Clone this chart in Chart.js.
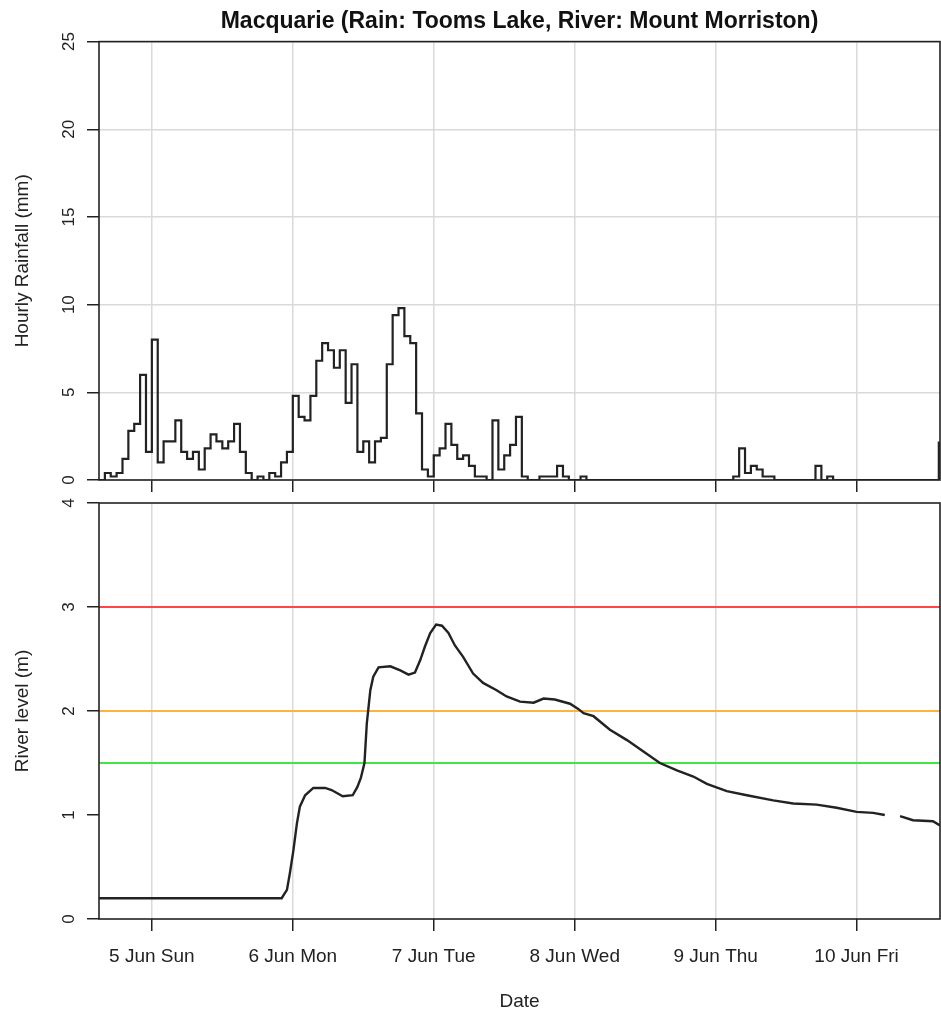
<!DOCTYPE html>
<html>
<head>
  <title>Macquarie rain and river</title>
  <script src="https://cdn.jsdelivr.net/npm/chart.js"></script>
  <style>
    body { margin: 0; background: #fff; }
    #wrap { position: relative; width: 941px; height: 1015px; }
    #wrap canvas { position: absolute; left: 0; }
  </style>
</head>
<body>
<div id="wrap">
  <canvas id="rainChart" width="941" height="492" style="top:0"></canvas>
  <canvas id="riverChart" width="941" height="523" style="top:492px"></canvas>
</div>

<script>
// all times are hours counted from 5 Jun 00:00
const dayTicks = [0, 24, 48, 72, 96, 120];
const dayLabels = ['5 Jun Sun', '6 Jun Mon', '7 Jun Tue', '8 Jun Wed', '9 Jun Thu', '10 Jun Fri'];
const xStart = -9;
const xEnd = 134.2;

// hourly rainfall at Tooms Lake, first value is 4 Jun 15:00
const rainStart = -9;
const rainfall = [
  0, 0.4, 0.2, 0.4, 1.2, 2.8, 3.2, 6.0, 1.6,
  8.0, 1.0, 2.2, 2.2, 3.4, 1.6, 1.2, 1.6, 0.6, 1.8, 2.6, 2.2, 1.8, 2.2, 3.2, 1.6, 0.4, 0, 0.2, 0, 0.4, 0.2, 1.0, 1.6,
  4.8, 3.6, 3.4, 4.8, 6.8, 7.8, 7.4, 6.4, 7.4, 4.4, 6.6, 1.6, 2.2, 1.0, 2.2, 2.4, 6.6, 9.4, 9.8, 8.2, 7.8, 3.8, 0.6, 0.2,
  1.4, 1.8, 3.2, 2.0, 1.2, 1.4, 0.8, 0.2, 0.2, 0, 3.4, 0.6, 1.4, 2.0, 3.6, 0.2, 0, 0, 0.2, 0.2, 0.2, 0.8, 0.2, 0,
  0, 0.2, 0, 0, 0, 0, 0, 0, 0, 0, 0, 0, 0, 0, 0, 0, 0, 0, 0, 0, 0, 0, 0, 0,
  0, 0, 0, 0.2, 1.8, 0.4, 0.8, 0.6, 0.2, 0.2, 0, 0, 0, 0, 0, 0, 0, 0.8, 0, 0.2, 0, 0, 0, 0,
  0, 0, 0, 0, 0, 0, 0, 0, 0, 0, 0, 0, 0, 0, 2.2
];

// river level at Mount Morriston (null = missing reading)
const riverHours = [
  -9, 22.1, 23.0, 23.5, 24.1, 24.7, 25.2, 26.1, 27.5, 29.5, 30.6, 32.5, 34.2, 35.0, 35.6, 36.2,
  36.6, 36.9, 37.2, 37.7, 38.6, 40.6, 42.3, 43.7, 44.8, 45.7, 46.5, 47.4, 48.4, 49.4, 50.5, 51.6,
  53.0, 54.7, 56.4, 58.7, 60.4, 62.7, 65.0, 66.7, 68.6, 71.2, 72.6, 73.5, 75.2, 78.0, 80.9, 83.7,
  86.5, 89.4, 92.2, 94.5, 97.9, 101.3, 105.8, 109.2, 113.2, 116.6, 120.0, 122.8, 124.8, 126.0,
  127.4, 129.6, 133.0, 134.2
];
const riverLevel = [
  0.2, 0.2, 0.28, 0.44, 0.66, 0.92, 1.08, 1.19, 1.26, 1.26, 1.24, 1.18, 1.19, 1.27, 1.36, 1.5,
  1.88, 2.04, 2.2, 2.33, 2.42, 2.43, 2.39, 2.35, 2.37, 2.49, 2.62, 2.75, 2.83, 2.82, 2.75, 2.63,
  2.52, 2.36, 2.27, 2.2, 2.14, 2.09, 2.08, 2.12, 2.11, 2.07, 2.02, 1.98, 1.95, 1.82, 1.72, 1.61,
  1.5, 1.43, 1.37, 1.30, 1.23, 1.19, 1.14, 1.11, 1.10, 1.07, 1.03, 1.02, 1.0, null,
  0.99, 0.95, 0.94, 0.90
];

// flood warning levels
const warnLevels = [3, 2, 1.5];
const warnColours = ['#ff4545', '#ffb23c', '#3ee83e'];

const FONT = '"Liberation Sans", Arial, sans-serif';
const INK = '#222';
const GRID = '#dadada';

// box round the plot area + y tick labels turned on their side (like R)
const frame = {
  id: 'frame',
  afterDraw(chart) {
    const { ctx, chartArea: a } = chart;
    const y = chart.scales.y;
    ctx.save();
    ctx.strokeStyle = INK;
    ctx.lineWidth = 1.6;
    ctx.strokeRect(a.left, a.top, a.right - a.left, a.bottom - a.top);
    ctx.fillStyle = INK;
    ctx.font = '17px ' + FONT;
    ctx.textAlign = 'center';
    ctx.textBaseline = 'middle';
    y.ticks.forEach(t => {
      ctx.save();
      ctx.translate(69, y.getPixelForValue(t.value));
      ctx.rotate(-Math.PI / 2);
      ctx.fillText(String(t.value), 0, 0);
      ctx.restore();
    });
    ctx.restore();
  }
};

function xAxis(showLabels, height) {
  return {
    type: 'linear',
    min: xStart,
    max: xEnd,
    afterBuildTicks: s => { s.ticks = dayTicks.map(v => ({ value: v })); },
    afterFit: s => { s.height = height; },
    border: { display: false },
    grid: { color: GRID, lineWidth: 1.5, tickColor: INK, tickLength: 12, tickWidth: 1.5 },
    ticks: {
      display: showLabels,
      autoSkip: false,
      maxRotation: 0,
      padding: 14,
      color: INK,
      font: { family: FONT, size: 19 },
      callback: (v, i) => dayLabels[i]
    },
    title: {
      display: showLabels,
      text: 'Date',
      color: INK,
      font: { family: FONT, size: 19 },
      padding: { top: 0, bottom: 2 }
    }
  };
}

function yAxis(max, step, label, gridOn) {
  return {
    min: 0,
    max: max,
    afterFit: s => { s.width = 99; },
    border: { display: false },
    grid: { drawOnChartArea: gridOn, color: GRID, lineWidth: 1.5, tickColor: INK, tickLength: 12, tickWidth: 1.5 },
    ticks: { stepSize: step, display: false },
    title: {
      display: true,
      text: label,
      color: INK,
      font: { family: FONT, size: 19 },
      padding: { top: 11, bottom: 0 }
    }
  };
}

new Chart(document.getElementById('rainChart'), {
  type: 'line',
  data: {
    datasets: [{
      data: rainfall.map((v, i) => ({ x: rainStart + i, y: v })),
      borderColor: INK,
      borderWidth: 2.2,
      stepped: true,
      pointRadius: 0
    }]
  },
  options: {
    responsive: false,
    animation: false,
    layout: { padding: { right: 1 } },
    scales: {
      x: xAxis(false, 12),
      y: yAxis(25, 5, 'Hourly Rainfall (mm)', true)
    },
    plugins: {
      legend: { display: false },
      tooltip: { enabled: false },
      title: {
        display: true,
        fullSize: false,
        text: 'Macquarie (Rain: Tooms Lake, River: Mount Morriston)',
        color: '#111',
        font: { family: FONT, size: 23, weight: 'bold' },
        padding: { top: 8, bottom: 6 }
      }
    }
  },
  plugins: [frame]
});

const warnSets = warnLevels.map((lvl, i) => ({
  data: [{ x: xStart, y: lvl }, { x: xEnd, y: lvl }],
  borderColor: warnColours[i],
  borderWidth: 2,
  pointRadius: 0
}));

new Chart(document.getElementById('riverChart'), {
  type: 'line',
  data: {
    datasets: [{
      data: riverHours.map((h, i) => ({ x: h, y: riverLevel[i] })),
      borderColor: INK,
      borderWidth: 2.4,
      pointRadius: 0,
      spanGaps: false
    }].concat(warnSets)
  },
  options: {
    responsive: false,
    animation: false,
    layout: { padding: { top: 11, right: 1 } },
    scales: {
      x: xAxis(true, 96),
      y: yAxis(4, 1, 'River level (m)', false)
    },
    plugins: {
      legend: { display: false },
      tooltip: { enabled: false }
    }
  },
  plugins: [frame]
});
</script>
</body>
</html>
